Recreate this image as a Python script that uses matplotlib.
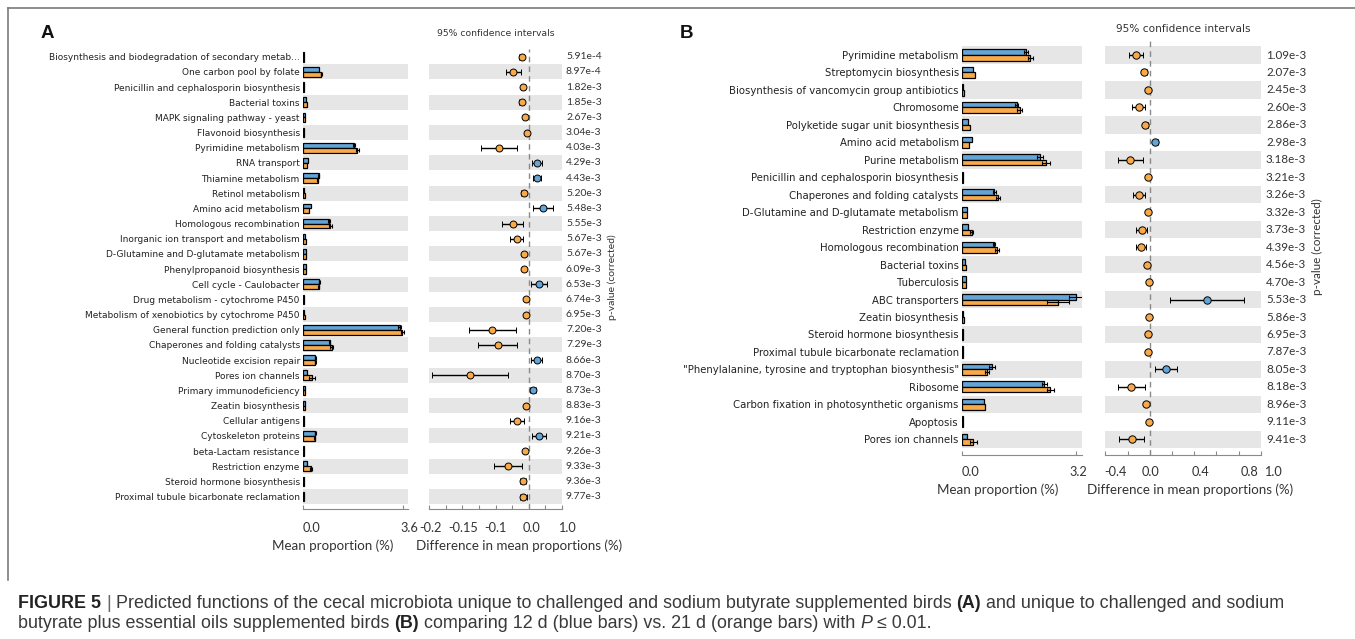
import matplotlib
matplotlib.use('Agg')
import matplotlib.pyplot as plt
from matplotlib import transforms
from matplotlib.lines import Line2D
import numpy as np

W, H, DPI = 1355, 639, 100

BLUE = '#64a5d8'
ORANGE = '#f8a94a'
BAND = '#e6e6e6'
TEXT = '#333333'

# ---- panel A: challenged + sodium butyrate ----
labels_a = [
    'Biosynthesis and biodegradation of secondary metab...',
    'One carbon pool by folate',
    'Penicillin and cephalosporin biosynthesis',
    'Bacterial toxins',
    'MAPK signaling pathway - yeast',
    'Flavonoid biosynthesis',
    'Pyrimidine metabolism',
    'RNA transport',
    'Thiamine metabolism',
    'Retinol metabolism',
    'Amino acid metabolism',
    'Homologous recombination',
    'Inorganic ion transport and metabolism',
    'D-Glutamine and D-glutamate metabolism',
    'Phenylpropanoid biosynthesis',
    'Cell cycle - Caulobacter',
    'Drug metabolism - cytochrome P450',
    'Metabolism of xenobiotics by cytochrome P450',
    'General function prediction only',
    'Chaperones and folding catalysts',
    'Nucleotide excision repair',
    'Pores ion channels',
    'Primary immunodeficiency',
    'Zeatin biosynthesis',
    'Cellular antigens',
    'Cytoskeleton proteins',
    'beta-Lactam resistance',
    'Restriction enzyme',
    'Steroid hormone biosynthesis',
    'Proximal tubule bicarbonate reclamation',
]
pvals_a = ['5.91e-4', '8.97e-4', '1.82e-3', '1.85e-3', '2.67e-3', '3.04e-3',
           '4.03e-3', '4.29e-3', '4.43e-3', '5.20e-3', '5.48e-3', '5.55e-3',
           '5.67e-3', '5.67e-3', '6.09e-3', '6.53e-3', '6.74e-3', '6.95e-3',
           '7.20e-3', '7.29e-3', '8.66e-3', '8.70e-3', '8.73e-3', '8.83e-3',
           '9.16e-3', '9.21e-3', '9.26e-3', '9.33e-3', '9.36e-3', '9.77e-3']
mean12_a = [0.03, 0.58, 0.03, 0.10, 0.05, 0.01, 1.83, 0.18, 0.55, 0.04,
            0.28, 0.93, 0.07, 0.10, 0.08, 0.58, 0.04, 0.04, 3.48, 0.95,
            0.44, 0.13, 0.06, 0.05, 0.02, 0.44, 0.02, 0.13, 0.02, 0.02]
mean21_a = [0.04, 0.65, 0.04, 0.12, 0.06, 0.01, 1.95, 0.15, 0.52, 0.05,
            0.22, 0.98, 0.09, 0.11, 0.09, 0.55, 0.04, 0.05, 3.58, 1.03,
            0.44, 0.31, 0.06, 0.06, 0.03, 0.41, 0.03, 0.27, 0.03, 0.03]
err12_a = [0, 0, 0, 0, 0, 0, 0.05, 0, 0.02, 0, 0, 0.03, 0, 0, 0,
           0.02, 0, 0, 0.05, 0.03, 0.02, 0, 0, 0, 0, 0.02, 0, 0, 0, 0]
err21_a = [0, 0.02, 0, 0, 0, 0, 0.06, 0, 0.02, 0, 0, 0.04, 0, 0, 0,
           0.02, 0, 0, 0.06, 0.05, 0.02, 0.10, 0, 0, 0, 0.02, 0, 0.04, 0, 0]
diff_a = [-0.014, -0.031, -0.011, -0.014, -0.0075, -0.003, -0.059, 0.016,
          0.017, -0.0095, 0.029, -0.032, -0.024, -0.0095, -0.0095, 0.021,
          -0.0055, -0.0055, -0.073, -0.062, 0.016, -0.118, 0.0093, -0.0055,
          -0.023, 0.021, -0.007, -0.042, -0.012, -0.011]
ci_a = [0.005, 0.015, 0.004, 0.005, 0.003, 0.001, 0.036, 0.010, 0.008, 0.005,
        0.020, 0.021, 0.0135, 0.004, 0.004, 0.016, 0.0025, 0.0025, 0.048, 0.039,
        0.011, 0.077, 0.006, 0.002, 0.014, 0.015, 0.0025, 0.028, 0.006, 0.007]

# ---- panel B: challenged + sodium butyrate + essential oils ----
labels_b = [
    'Pyrimidine metabolism',
    'Streptomycin biosynthesis',
    'Biosynthesis of vancomycin group antibiotics',
    'Chromosome',
    'Polyketide sugar unit biosynthesis',
    'Amino acid metabolism',
    'Purine metabolism',
    'Penicillin and cephalosporin biosynthesis',
    'Chaperones and folding catalysts',
    'D-Glutamine and D-glutamate metabolism',
    'Restriction enzyme',
    'Homologous recombination',
    'Bacterial toxins',
    'Tuberculosis',
    'ABC transporters',
    'Zeatin biosynthesis',
    'Steroid hormone biosynthesis',
    'Proximal tubule bicarbonate reclamation',
    '"Phenylalanine, tyrosine and tryptophan biosynthesis"',
    'Ribosome',
    'Carbon fixation in photosynthetic organisms',
    'Apoptosis',
    'Pores ion channels',
]
pvals_b = ['1.09e-3', '2.07e-3', '2.45e-3', '2.60e-3', '2.86e-3', '2.98e-3',
           '3.18e-3', '3.21e-3', '3.26e-3', '3.32e-3', '3.73e-3', '4.39e-3',
           '4.56e-3', '4.70e-3', '5.53e-3', '5.86e-3', '6.95e-3', '7.87e-3',
           '8.05e-3', '8.18e-3', '8.96e-3', '9.11e-3', '9.41e-3']
mean12_b = [1.79, 0.31, 0.03, 1.53, 0.17, 0.26, 2.19, 0.02, 0.90, 0.12, 0.17, 0.89,
            0.085, 0.10, 3.19, 0.03, 0.02, 0.02, 0.83, 2.31, 0.61, 0.02, 0.14]
mean21_b = [1.91, 0.36, 0.05, 1.61, 0.22, 0.20, 2.36, 0.02, 1.00, 0.12, 0.26, 0.97,
            0.10, 0.10, 2.69, 0.04, 0.02, 0.02, 0.69, 2.47, 0.64, 0.02, 0.31]
err12_b = [0.05, 0, 0, 0.05, 0, 0, 0.09, 0, 0.04, 0, 0, 0.04,
           0, 0, 0.20, 0, 0, 0, 0.08, 0.07, 0, 0, 0]
err21_b = [0.07, 0, 0, 0.08, 0, 0, 0.11, 0, 0.06, 0, 0.05, 0.05,
           0, 0, 0.31, 0, 0, 0, 0.06, 0.10, 0, 0, 0.10]
diff_b = [-0.123, -0.048, -0.015, -0.099, -0.039, 0.051, -0.174, -0.012,
          -0.099, -0.012, -0.072, -0.075, -0.024, -0.003, 0.517, -0.006,
          -0.018, -0.015, 0.144, -0.165, -0.030, -0.006, -0.162]
ci_b = [0.065, 0.020, 0.006, 0.056, 0.020, 0.020, 0.110, 0.005, 0.054, 0.006,
        0.048, 0.045, 0.012, 0.004, 0.330, 0.004, 0.008, 0.006, 0.100, 0.119,
        0.014, 0.004, 0.111]

plt.rcParams['font.family'] = 'DejaVu Sans'
fig = plt.figure(figsize=(W / DPI, H / DPI), dpi=DPI)


def px_axes(x0, y0, x1, y1):
    return fig.add_axes([x0 / W, 1 - y1 / H, (x1 - x0) / W, (y1 - y0) / H])


def shaded_rows(ax, n):
    # alternate grey rows, counted from the bottom row
    for i in range(n):
        if (n - 1 - i) % 2 == 0:
            ax.axhspan(i - 0.5, i + 0.5, color=BAND, lw=0, zorder=0)


def bottom_axis(ax, ticks, labels, shifts, dy, size):
    for s in ('left', 'right', 'top'):
        ax.spines[s].set_visible(False)
    ax.spines['bottom'].set_color('#8a8a8a')
    ax.spines['bottom'].set_linewidth(0.8)
    ax.set_yticks([])
    ax.set_xticks(ticks)
    ax.set_xticklabels([])
    ax.tick_params(axis='x', direction='in', length=3, color='#8a8a8a')
    trans = transforms.blended_transform_factory(ax.transData, ax.transAxes)
    for t, lab, dx in zip(ticks, labels, shifts):
        if not lab:
            continue
        off = transforms.ScaledTranslation(dx / DPI, -dy / DPI, fig.dpi_scale_trans)
        ax.text(t, 0, lab, transform=trans + off, ha='center', va='center',
                fontsize=size, family='Lato', color=TEXT)


def draw_panel(labels, pvals, m12, m21, e12, e21, diff, ci, g):
    n = len(labels)
    y = np.arange(n)
    ylim = (g['ybot'], g['ytop'])

    # mean proportion bars
    ax = px_axes(g['bar_x0'], g['y0'], g['bar_x1'], g['y1'])
    shaded_rows(ax, n)
    ax.barh(y - 0.16, m12, height=0.32, color=BLUE, edgecolor='black', lw=0.9, zorder=2)
    ax.barh(y + 0.16, m21, height=0.32, color=ORANGE, edgecolor='black', lw=0.9, zorder=2)
    for off, m, e in ((-0.16, m12, e12), (0.16, m21, e21)):
        m, e = np.array(m), np.array(e)
        k = e > 0
        ax.errorbar(m[k], y[k] + off, xerr=e[k], fmt='none', ecolor='black',
                    elinewidth=0.8, capsize=1.5, capthick=0.8, zorder=3)
    ax.set_xlim(0, g['bar_xmax'])
    ax.set_ylim(*ylim)
    bottom_axis(ax, [0, g['bar_tick']], ['0.0', g['bar_tick_label']],
                g['bar_shift'], g['tick_dy'], 9.2)
    ax.set_yticks(y)
    ax.set_yticklabels(labels, fontsize=g['label_size'], color='#222222')
    ax.tick_params(axis='y', length=0, pad=2.5)

    # difference with 95% confidence intervals
    cx = px_axes(g['ci_x0'], g['y0'], g['ci_x1'], g['y1'])
    shaded_rows(cx, n)
    cx.axvline(0, color='#8a8a8a', lw=1.0, ls=(0, (4, 3)), zorder=1)
    for i in range(n):
        col = BLUE if diff[i] > 0 else ORANGE
        cx.errorbar(diff[i], i, xerr=ci[i], fmt='o', ms=g['ms'], mfc=col, mec='black',
                    mew=0.7, ecolor='black', elinewidth=1.0, capsize=2.2,
                    capthick=1.0, zorder=3)
    cx.set_xlim(*g['ci_lim'])
    cx.set_ylim(*ylim)
    bottom_axis(cx, g['ci_ticks'], g['ci_labels'], g['ci_shift'], g['tick_dy'], 9.2)

    # corrected p-values on the right
    ptrans = transforms.blended_transform_factory(fig.transFigure, cx.transData)
    for i in range(n):
        cx.text(g['p_x'] / W, i, pvals[i], transform=ptrans, ha='left', va='center',
                fontsize=g['p_size'], family='Lato', color=TEXT)
    fig.text(g['pv_x'] / W, 1 - g['pv_y'] / H, 'p-value (corrected)', rotation=90,
             ha='center', va='center', fontsize=g['p_size'], family='Lato', color=TEXT)
    fig.text(g['title_x'] / W, 1 - g['title_y'] / H, '95% confidence intervals',
             ha='center', va='center', fontsize=g['title_size'], color=TEXT)
    fig.text(g['mean_x'] / W, 1 - g['xlab_y'] / H, 'Mean proportion (%)',
             ha='center', va='center', fontsize=9.6, family='Lato', color=TEXT)
    fig.text(g['diff_x'] / W, 1 - g['xlab_y'] / H, 'Difference in mean proportions (%)',
             ha='center', va='center', fontsize=9.6, family='Lato', color=TEXT)
    fig.text(g['letter_x'] / W, 1 - g['letter_y'] / H, g['letter'], ha='left',
             va='center', fontsize=13.5, fontweight='bold', family='Liberation Sans',
             color='#111111')


geom_a = dict(
    y0=49.1, y1=509.3, ytop=-0.5, ybot=29.84,
    bar_x0=303.3, bar_x1=408.0, bar_xmax=3.78, bar_tick=3.6, bar_tick_label='3.6',
    bar_shift=[8, 6], tick_dy=18.4, label_size=6.5,
    ci_x0=429.3, ci_x1=561.7, ci_lim=(-0.2, 0.2 / 3),
    ci_ticks=list(np.linspace(-0.2, 0.2 / 3, 9)),
    ci_labels=['-0.2', '', '-0.15', '', '-0.1', '', '0.0', '', '1.0'],
    ci_shift=[1, 0, 1, 0, 0, 0, 3, 0, 5],
    ms=5.0, p_x=566, p_size=7.5, pv_x=612, pv_y=277,
    title_x=496, title_y=33, title_size=6.7,
    mean_x=332.5, diff_x=519, xlab_y=546,
    letter='A', letter_x=41, letter_y=33,
)
geom_b = dict(
    y0=40.7, y1=455.0, ytop=-0.82, ybot=22.9,
    bar_x0=962.3, bar_x1=1081.7, bar_xmax=3.36, bar_tick=3.2, bar_tick_label='3.2',
    bar_shift=[8, 2], tick_dy=17.0, label_size=7.3,
    ci_x0=1105.3, ci_x1=1260.7, ci_lim=(-0.4, 1.0),
    ci_ticks=list(np.linspace(-0.4, 1.0, 8)),
    ci_labels=['-0.4', '', '0.0', '', '0.4', '', '0.8', '1.0'],
    ci_shift=[10, 0, 1, 0, 6, 0, 11, 12],
    ms=5.3, p_x=1266, p_size=8.4, pv_x=1317, pv_y=247,
    title_x=1183, title_y=28.5, title_size=7.6,
    mean_x=998, diff_x=1190, xlab_y=489.3,
    letter='B', letter_x=680, letter_y=33,
)

draw_panel(labels_a, pvals_a, mean12_a, mean21_a, err12_a, err21_a, diff_a, ci_a, geom_a)
draw_panel(labels_b, pvals_b, mean12_b, mean21_b, err12_b, err21_b, diff_b, ci_b, geom_b)

# thin frame around the figure area
for xs, ys in (([8, 8], [8, 580]), ([8, W], [8, 8])):
    fig.add_artist(Line2D([x / W for x in xs], [1 - y / H for y in ys],
                          transform=fig.transFigure, color='#7a7a7a', lw=1.2))

# caption, written as consecutive runs of differently styled text
renderer = fig.canvas.get_renderer()
CAP_FONT = 'Liberation Sans'


def run_width(text, size, **kw):
    t = fig.text(0, 0, text, fontsize=size, family=CAP_FONT, **kw)
    w = t.get_window_extent(renderer).width
    t.remove()
    return w


def draw_runs(x, y, runs, size):
    space = run_width('x x', size) - run_width('xx', size)
    for text, kw in runs:
        lead = len(text) - len(text.lstrip(' '))
        trail = len(text) - len(text.rstrip(' '))
        x += lead * space
        body = text.strip(' ')
        t = fig.text(x / W, 1 - y / H, body, fontsize=size, family=CAP_FONT,
                     ha='left', va='baseline', color=kw.pop('color', '#3a3a3a'), **kw)
        x += t.get_window_extent(renderer).width + trail * space
    return x


bold = dict(fontweight='bold', color='#222222')
line1 = [('FIGURE 5', dict(bold)), (' | ', dict(color='#666666')),
         ('Predicted functions of the cecal microbiota unique to challenged and sodium '
          'butyrate supplemented birds ', {}), ('(A)', dict(bold)),
         (' and unique to challenged and sodium', {})]
line2 = [('butyrate plus essential oils supplemented birds ', {}), ('(B)', dict(bold)),
         (' comparing 12 d (blue bars) vs. 21 d (orange bars) with ', {}),
         ('P', dict(style='italic')), (' \u2264 0.01.', {})]

ref = 10.0
w_ref = sum(run_width(t, ref, **{k: v for k, v in kw.items() if k != 'color'})
            for t, kw in line1)
cap_size = ref * 1265 / w_ref
draw_runs(18, 608, line1, cap_size)
draw_runs(18, 628, line2, cap_size)

fig.savefig('out.png', dpi=DPI)
